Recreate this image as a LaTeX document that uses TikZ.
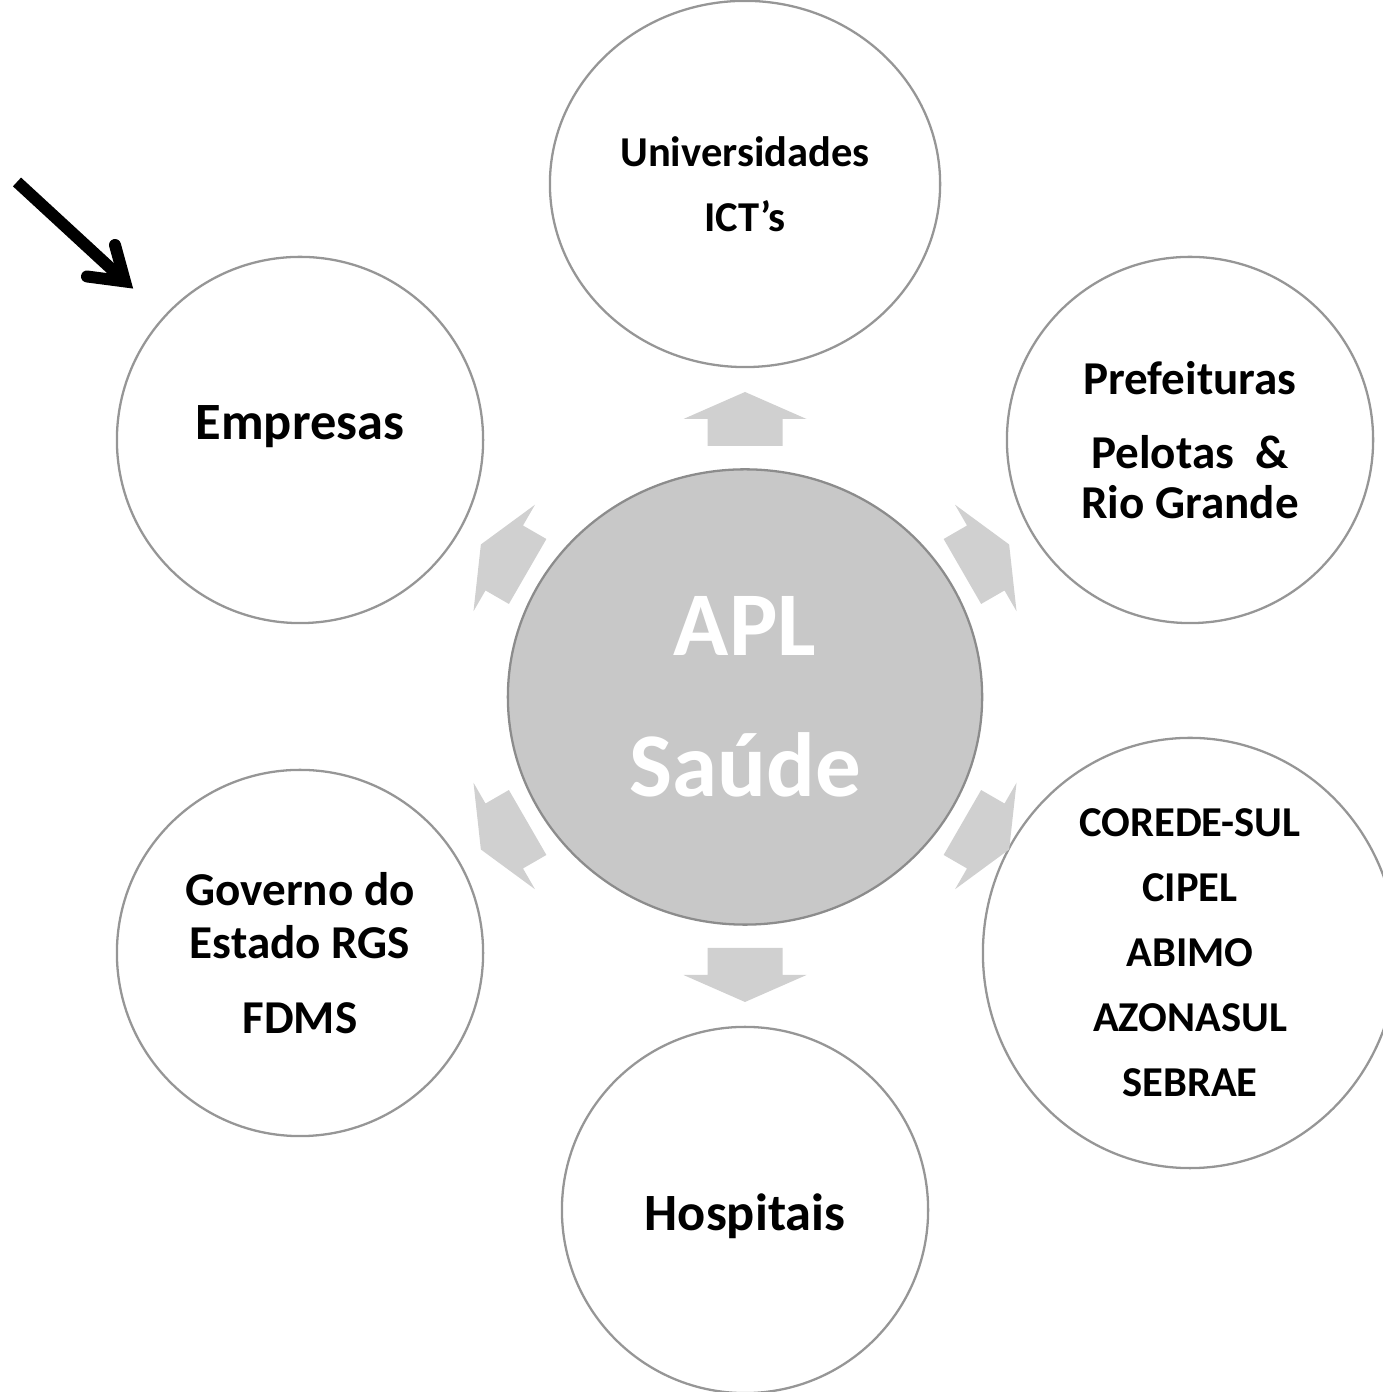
\documentclass[tikz,border=0pt]{standalone}
\usepackage{fontspec}
\setmainfont{Carlito}
\usetikzlibrary{shapes.geometric}
\definecolor{ringgray}{RGB}{150,150,150}
\definecolor{aplfill}{RGB}{200,200,200}
\definecolor{aplline}{RGB}{140,140,140}
\definecolor{arrowgray}{RGB}{208,208,208}
\begin{document}
\begin{tikzpicture}[x=0.01cm,y=0.01cm,
	ring/.style={
		shape=circle,
		minimum size=3.66cm,
		inner sep=0pt,
		draw=ringgray, line width=0.65pt},
	oval/.style={
		shape=ellipse,
		inner sep=0pt,
		draw=ringgray, line width=0.65pt},
	label/.style={
		text=black,
		font=\bfseries,
		align=center},
	blockarrow/.style={fill=arrowgray},
	pointer/.style={line width=3.4pt, black}]
	\useasboundingbox (0,0) rectangle (1382,1392);
	\node [oval,fill=aplfill,draw=aplline,minimum width=4.74cm,minimum height=4.55cm] (apl) at (745,695) {};
	\node [oval,minimum width=3.9cm,minimum height=3.66cm] (univ) at (745,1208) {};
	\node [ring] (emp) at (300,952) {};
	\node [ring] (pref) at (1190,952) {};
	\node [ring] (gov) at (300,439) {};
	\node [oval,minimum width=4.14cm,minimum height=4.3cm] (cor) at (1190,439) {};
	\node [ring] (hosp) at (745,182) {};
	% block arrows round the centre
	\foreach \a in {90,30,-30,-90,-150,150}
		\fill [blockarrow,shift={(apl)},rotate=\a] (251,-37.5) -- (278,-37.5) -- (278,-61.5) -- (305,0) -- (278,61.5) -- (278,37.5) -- (251,37.5) -- cycle;
	% texts
	\node [label,text=white,font=\bfseries\fontsize{25.9}{40.1}\selectfont] at (apl) {APL\\Saúde};
	\node [label,font=\bfseries\fontsize{12.1}{18.5}\selectfont] at (univ) {Universidades\\ICT’s};
	\node [label,font=\bfseries\fontsize{14.9}{18}\selectfont] at ([yshift=0.13cm]emp.center) {Empresas};
	\node [label,font=\bfseries\fontsize{13.4}{14.2}\selectfont] at (pref) {Prefeituras\\[6.8pt]Pelotas\ \ \&\\Rio Grande};
	\node [label,font=\bfseries\fontsize{13.4}{15.1}\selectfont] at (gov) {Governo do\\Estado RGS\\[6pt]FDMS};
	\node [label,font=\bfseries\fontsize{12.1}{18.5}\selectfont] at (cor) {COREDE-SUL\\CIPEL\\ABIMO\\AZONASUL\\SEBRAE};
	\node [label,font=\bfseries\fontsize{14.9}{18}\selectfont] at ([yshift=-0.06cm]hosp.center) {Hospitais};
	% black pointer
	\coordinate (ps) at (17,1210);
	\coordinate (pv) at (125,1110.5);
	\coordinate (pa) at (115,1147);
	\coordinate (pb) at (87,1115.5);
	\draw [pointer] (ps) -- (pv);
	\draw [pointer,line cap=round,line join=miter] (pa) -- (pv) -- (pb);
\end{tikzpicture}
\end{document}
